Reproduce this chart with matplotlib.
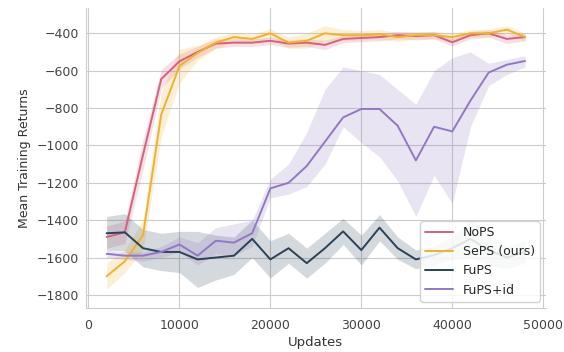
import numpy as np
import matplotlib
matplotlib.use("Agg")
import matplotlib.pyplot as plt
import seaborn as sns

updates = np.arange(2000, 50000, 2000)

nops = [-1490, -1465, -1050, -645, -550, -500, -455, -450, -450, -440, -455, -450,
        -462, -430, -425, -420, -410, -415, -410, -448, -410, -400, -430, -420]
nops_std = [60, 60, 80, 50, 40, 30, 25, 20, 20, 20, 20, 20,
            25, 20, 20, 20, 20, 20, 20, 20, 20, 20, 25, 20]

seps = [-1700, -1620, -1480, -835, -575, -505, -450, -420, -430, -400, -450, -440,
        -400, -410, -410, -405, -420, -410, -410, -420, -400, -400, -380, -420]
seps_std = [70, 60, 80, 120, 90, 40, 30, 25, 25, 25, 30, 40,
            40, 30, 25, 25, 25, 20, 20, 20, 20, 20, 20, 20]

fups = [-1470, -1465, -1550, -1570, -1570, -1610, -1600, -1590, -1500, -1610, -1550, -1630,
        -1550, -1460, -1560, -1440, -1550, -1610, -1587, -1550, -1500, -1560, -1600, -1570]
fups_std = [90, 100, 100, 100, 110, 150, 120, 100, 100, 100, 80, 80,
            80, 70, 80, 70, 60, 50, 50, 60, 100, 80, 60, 60]

fupsid = [-1580, -1590, -1590, -1570, -1530, -1590, -1510, -1520, -1470, -1230, -1200, -1110,
          -980, -850, -805, -805, -895, -1080, -900, -925, -760, -610, -568, -548]
fupsid_lo = [-1600, -1610, -1620, -1600, -1570, -1640, -1580, -1590, -1540, -1280, -1260, -1220,
             -1100, -900, -985, -1060, -1190, -1380, -1160, -1310, -900, -680, -620, -580]
fupsid_hi = [-1560, -1570, -1570, -1540, -1490, -1520, -1440, -1420, -1400, -1180, -1100, -930,
             -700, -580, -600, -620, -700, -780, -600, -530, -500, -560, -540, -520]

labels = ["NoPS", "SePS (ours)", "FuPS", "FuPS+id"]
colors = ["#d6617f", "#f0b12e", "#2a4257", "#9278c2"]

sns.set_style("whitegrid")
plt.rcParams['font.family'] = ['DejaVu Sans']

fig = plt.figure(figsize=(5.64, 3.52), dpi=100)
ax = fig.add_axes([0.152, 0.125, 0.816, 0.852])

series = [
    (nops, np.array(nops) - nops_std, np.array(nops) + nops_std),
    (seps, np.array(seps) - seps_std, np.array(seps) + seps_std),
    (fups, np.array(fups) - fups_std, np.array(fups) + fups_std),
    (fupsid, fupsid_lo, fupsid_hi),
]

for (mean, lo, hi), lab, col in zip(series, labels, colors):
    ax.fill_between(updates, lo, hi, color=col, alpha=0.2, linewidth=0)
    ax.plot(updates, mean, color=col, label=lab, linewidth=1.4)

ax.set_xlim(-300, 50300)
ax.set_ylim(-1870, -265)
ax.set_xticks([0, 10000, 20000, 30000, 40000, 50000])
ax.set_yticks(np.arange(-1800, -399, 200))
ax.tick_params(labelsize=9, colors="#444444", length=0)
ax.tick_params(axis="x", pad=8)
ax.tick_params(axis="y", pad=5)
ax.set_xlabel("Updates", fontsize=9.5, color="#333333", labelpad=3)
ax.set_ylabel("Mean Training Returns", fontsize=9, color="#333333")
sns.despine(ax=ax, top=True, right=True)
for s in ["left", "bottom"]:
    ax.spines[s].set_color("#cccccc")

ax.legend(loc="lower right", fontsize=9, frameon=True, framealpha=0.85,
          handlelength=2.2)

fig.savefig("out.png", dpi=100)
